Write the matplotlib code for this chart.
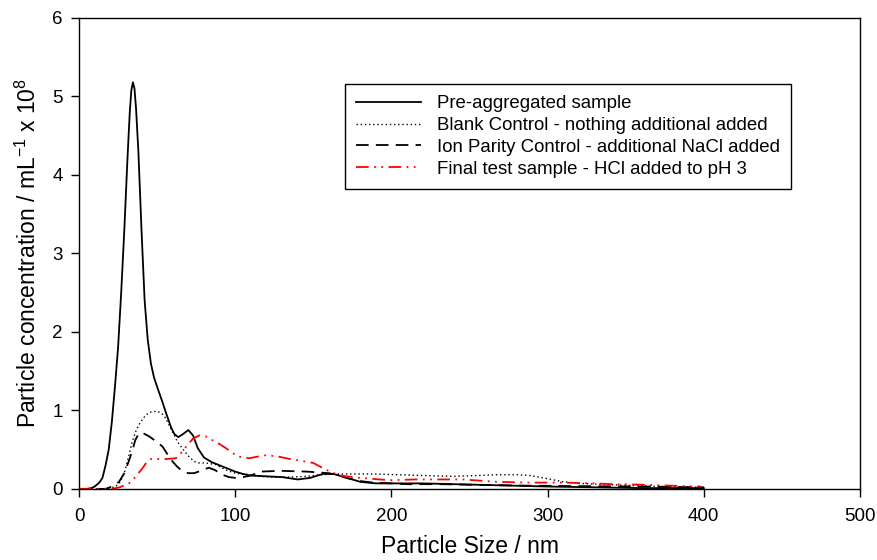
import matplotlib.pyplot as plt

plt.rcParams['font.family'] = ['Liberation Sans', 'DejaVu Sans']
plt.rcParams['mathtext.default'] = 'regular'

# particle size (nm) / concentration (x 10^8 per mL)
pre_x = [0, 5, 8, 10, 13, 15, 17, 19, 21, 23, 25, 27, 29, 31, 32.5, 33.5, 34.5, 35.5,
         36.5, 38, 40, 42, 44, 46, 48, 50, 53, 56, 59, 61, 63.5, 66, 70, 73, 76, 80,
         85, 90, 95, 100, 105, 110, 120, 130, 140, 148, 156, 163, 170, 180, 190, 200,
         220, 240, 260, 280, 300, 330, 360, 400]
pre_y = [0, 0, 0.01, 0.03, 0.08, 0.14, 0.3, 0.5, 0.85, 1.3, 1.8, 2.5, 3.3, 4.2, 4.8,
         5.08, 5.18, 5.1, 4.85, 4.3, 3.3, 2.4, 1.9, 1.6, 1.42, 1.3, 1.13, 0.95, 0.78,
         0.7, 0.66, 0.69, 0.75, 0.68, 0.52, 0.4, 0.34, 0.3, 0.26, 0.22, 0.19, 0.17,
         0.16, 0.15, 0.12, 0.14, 0.19, 0.19, 0.15, 0.09, 0.07, 0.07, 0.07, 0.06, 0.05,
         0.04, 0.03, 0.02, 0.01, 0.01]

blank_x = [0, 15, 20, 23.5, 26, 29, 32, 34, 36.3, 39, 42.7, 46, 50, 53, 55.5, 58,
           60.8, 63, 66, 70, 73.6, 77, 81, 87.5, 94, 100, 108.8, 115, 124.5, 135, 146,
           155, 163, 175, 188, 205, 220, 240, 255, 267, 280, 289, 300, 310, 320, 331,
           345, 357, 375, 400]
blank_y = [0, 0, 0.01, 0.03, 0.08, 0.2, 0.43, 0.6, 0.73, 0.84, 0.94, 0.98, 0.99, 0.96,
           0.9, 0.8, 0.69, 0.6, 0.52, 0.42, 0.35, 0.33, 0.33, 0.31, 0.24, 0.2, 0.18,
           0.16, 0.15, 0.15, 0.16, 0.18, 0.19, 0.19, 0.19, 0.18, 0.17, 0.16, 0.17, 0.18,
           0.18, 0.17, 0.13, 0.09, 0.07, 0.06, 0.05, 0.04, 0.03, 0.02]

ion_x = [0, 15, 17, 21, 25.6, 29, 32, 34, 36, 38.4, 41, 44.8, 49, 53.4, 56, 59.8, 63,
         66, 70, 73.6, 78, 83, 87, 91.8, 96, 100, 105, 110, 116, 129, 146, 160, 167,
         171, 180, 188, 200, 210, 231, 260, 290, 320, 360, 400]
ion_y = [0, 0, 0, 0.03, 0.09, 0.2, 0.36, 0.48, 0.62, 0.71, 0.71, 0.67, 0.61, 0.54,
         0.46, 0.35, 0.28, 0.23, 0.2, 0.2, 0.23, 0.27, 0.24, 0.18, 0.15, 0.14, 0.15,
         0.17, 0.22, 0.23, 0.22, 0.2, 0.17, 0.14, 0.1, 0.08, 0.07, 0.06, 0.06, 0.05,
         0.04, 0.035, 0.03, 0.02]

hcl_x = [0, 15, 21, 26, 32, 36, 40.5, 43, 46, 50, 55.5, 62, 66, 69.4, 73, 76.8, 81,
         85.4, 90, 94, 98, 102.4, 109, 114, 120, 128, 135, 141.5, 150, 158.5, 167,
         180, 199, 215, 231, 246, 267, 289, 310, 330, 342, 357, 380, 398]
hcl_y = [0, 0, 0, 0.02, 0.07, 0.15, 0.26, 0.33, 0.38, 0.38, 0.38, 0.39, 0.47, 0.56,
         0.64, 0.68, 0.67, 0.62, 0.57, 0.52, 0.46, 0.41, 0.39, 0.41, 0.43, 0.41, 0.38,
         0.36, 0.33, 0.24, 0.17, 0.14, 0.11, 0.12, 0.12, 0.12, 0.09, 0.08, 0.08, 0.07,
         0.06, 0.055, 0.04, 0.03]

labels = ['Pre-aggregated sample',
          'Blank Control - nothing additional added',
          'Ion Parity Control - additional NaCl added',
          'Final test sample - HCl added to pH 3']

fig = plt.figure(figsize=(8.78, 5.6), dpi=100)
ax = fig.add_axes([0.090, 0.127, 0.8895, 0.841])

ax.plot(pre_x, pre_y, color='black', lw=1.3, label=labels[0])
ax.plot(blank_x, blank_y, color='black', lw=1.0, ls=(0, (1, 2)), label=labels[1])
ax.plot(ion_x, ion_y, color='black', lw=1.3, ls=(0, (7, 4)), label=labels[2])
ax.plot(hcl_x, hcl_y, color='red', lw=1.3, ls=(0, (7, 3, 1, 3, 1, 3)), label=labels[3])

ax.set_xlim(0, 500)
ax.set_ylim(0, 6)
ax.set_xticks([0, 100, 200, 300, 400, 500])
ax.set_yticks([0, 1, 2, 3, 4, 5, 6])
ax.tick_params(direction='out', length=5.8, width=1, labelsize=13.5)
ax.tick_params(axis='x', pad=8)
ax.tick_params(axis='y', pad=6)
for s in ax.spines.values():
    s.set_linewidth(1)

ax.set_xlabel('Particle Size / nm', fontsize=16.5, labelpad=7)
ax.set_ylabel('Particle concentration / mL$^{-1}$ x 10$^{8}$', fontsize=16.5, labelpad=8)

leg = ax.legend(loc='upper left', bbox_to_anchor=(0.393, 0.85),
                bbox_transform=fig.transFigure, fontsize=13.4, frameon=True,
                fancybox=False, edgecolor='black', framealpha=1, handlelength=3.5,
                labelspacing=0.26, borderpad=0.6, handletextpad=0.85, borderaxespad=0)
leg.get_frame().set_linewidth(1)

fig.savefig('out.png', dpi=100)
